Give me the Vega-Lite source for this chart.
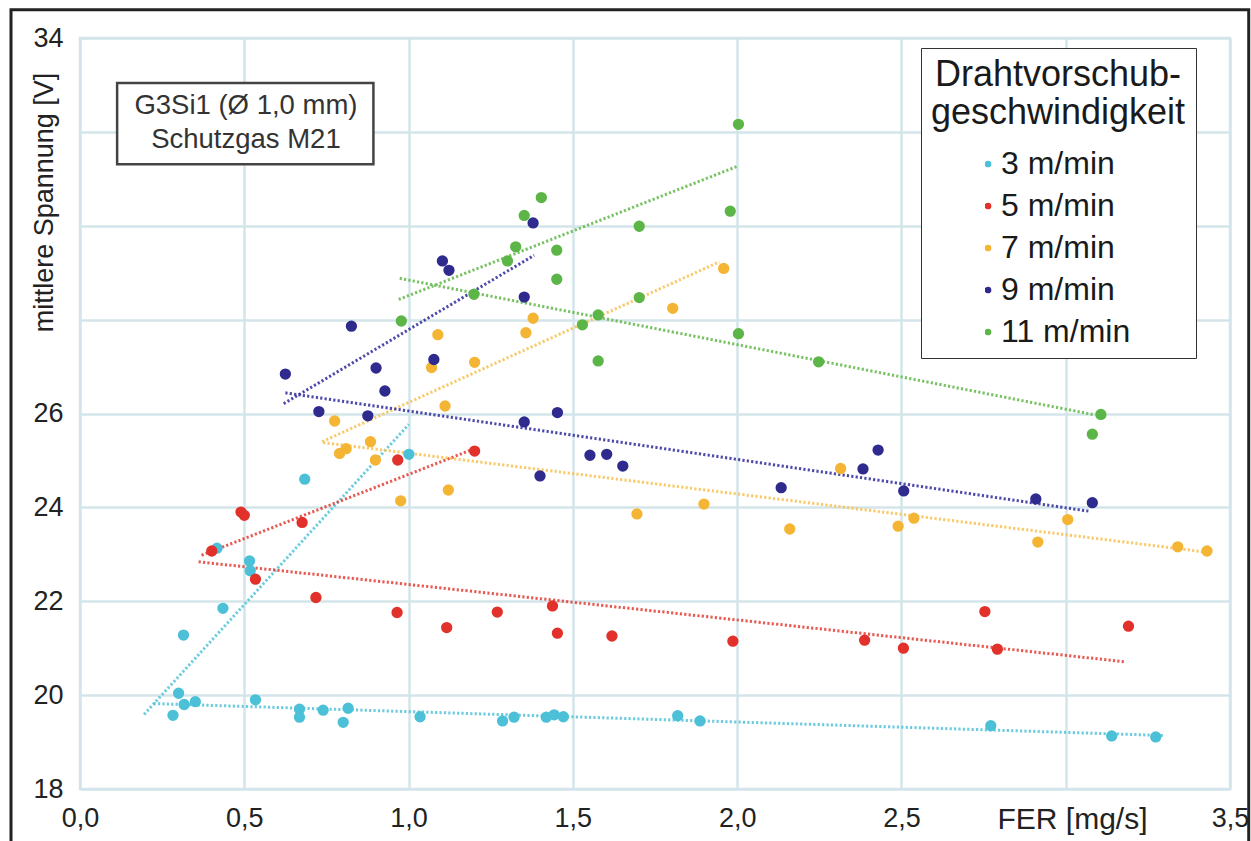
{
  "$schema": "https://vega.github.io/schema/vega-lite/v6.json",
  "width": 1150,
  "height": 751,
  "autosize": {"type": "none"},
  "padding": {"left": 80, "top": 38, "right": 21, "bottom": 52},
  "background": "white",
  "config": {
    "font": "Liberation Sans",
    "view": {"stroke": "#d3e5ea", "strokeWidth": 2.5},
    "axis": {
      "domain": false,
      "ticks": false,
      "tickSize": 0,
      "grid": true,
      "gridColor": "#d3e5ea",
      "gridWidth": 2.5,
      "gridOpacity": 1,
      "labelFont": "Liberation Sans",
      "labelFontSize": 27,
      "labelColor": "#222222",
      "titleFont": "Liberation Sans",
      "titleColor": "#222222",
      "titleFontWeight": "normal"
    }
  },
  "datasets": {
    "points": [
      {"speed": "3 m/min", "x": 0.283, "y": 19.57},
      {"speed": "3 m/min", "x": 0.300, "y": 20.04},
      {"speed": "3 m/min", "x": 0.315, "y": 21.28},
      {"speed": "3 m/min", "x": 0.317, "y": 19.80},
      {"speed": "3 m/min", "x": 0.351, "y": 19.86},
      {"speed": "3 m/min", "x": 0.417, "y": 23.13},
      {"speed": "3 m/min", "x": 0.435, "y": 21.85},
      {"speed": "3 m/min", "x": 0.516, "y": 22.86},
      {"speed": "3 m/min", "x": 0.518, "y": 22.65},
      {"speed": "3 m/min", "x": 0.534, "y": 19.90},
      {"speed": "3 m/min", "x": 0.668, "y": 19.70},
      {"speed": "3 m/min", "x": 0.668, "y": 19.53},
      {"speed": "3 m/min", "x": 0.684, "y": 24.60},
      {"speed": "3 m/min", "x": 0.740, "y": 19.68},
      {"speed": "3 m/min", "x": 0.801, "y": 19.42},
      {"speed": "3 m/min", "x": 0.816, "y": 19.72},
      {"speed": "3 m/min", "x": 1.001, "y": 25.13},
      {"speed": "3 m/min", "x": 1.035, "y": 19.54},
      {"speed": "3 m/min", "x": 1.286, "y": 19.45},
      {"speed": "3 m/min", "x": 1.321, "y": 19.53},
      {"speed": "3 m/min", "x": 1.419, "y": 19.53},
      {"speed": "3 m/min", "x": 1.443, "y": 19.58},
      {"speed": "3 m/min", "x": 1.471, "y": 19.54},
      {"speed": "3 m/min", "x": 1.819, "y": 19.56},
      {"speed": "3 m/min", "x": 1.887, "y": 19.45},
      {"speed": "3 m/min", "x": 2.772, "y": 19.35},
      {"speed": "3 m/min", "x": 3.140, "y": 19.13},
      {"speed": "3 m/min", "x": 3.274, "y": 19.11},
      {"speed": "5 m/min", "x": 0.401, "y": 23.07},
      {"speed": "5 m/min", "x": 0.490, "y": 23.90},
      {"speed": "5 m/min", "x": 0.500, "y": 23.83},
      {"speed": "5 m/min", "x": 0.534, "y": 22.47},
      {"speed": "5 m/min", "x": 0.676, "y": 23.68},
      {"speed": "5 m/min", "x": 0.718, "y": 22.08},
      {"speed": "5 m/min", "x": 0.965, "y": 21.76},
      {"speed": "5 m/min", "x": 0.967, "y": 25.01},
      {"speed": "5 m/min", "x": 1.116, "y": 21.44},
      {"speed": "5 m/min", "x": 1.201, "y": 25.20},
      {"speed": "5 m/min", "x": 1.270, "y": 21.77},
      {"speed": "5 m/min", "x": 1.438, "y": 21.90},
      {"speed": "5 m/min", "x": 1.453, "y": 21.32},
      {"speed": "5 m/min", "x": 1.619, "y": 21.26},
      {"speed": "5 m/min", "x": 1.987, "y": 21.15},
      {"speed": "5 m/min", "x": 2.388, "y": 21.17},
      {"speed": "5 m/min", "x": 2.506, "y": 21.00},
      {"speed": "5 m/min", "x": 2.754, "y": 21.78},
      {"speed": "5 m/min", "x": 2.792, "y": 20.98},
      {"speed": "5 m/min", "x": 3.191, "y": 21.47},
      {"speed": "7 m/min", "x": 0.775, "y": 25.84},
      {"speed": "7 m/min", "x": 0.790, "y": 25.15},
      {"speed": "7 m/min", "x": 0.810, "y": 25.25},
      {"speed": "7 m/min", "x": 0.884, "y": 25.40},
      {"speed": "7 m/min", "x": 0.899, "y": 25.01},
      {"speed": "7 m/min", "x": 0.976, "y": 24.14},
      {"speed": "7 m/min", "x": 1.070, "y": 26.98},
      {"speed": "7 m/min", "x": 1.089, "y": 27.68},
      {"speed": "7 m/min", "x": 1.111, "y": 26.16},
      {"speed": "7 m/min", "x": 1.121, "y": 24.37},
      {"speed": "7 m/min", "x": 1.201, "y": 27.09},
      {"speed": "7 m/min", "x": 1.357, "y": 27.72},
      {"speed": "7 m/min", "x": 1.379, "y": 28.03},
      {"speed": "7 m/min", "x": 1.695, "y": 23.86},
      {"speed": "7 m/min", "x": 1.804, "y": 28.24},
      {"speed": "7 m/min", "x": 1.899, "y": 24.07},
      {"speed": "7 m/min", "x": 1.959, "y": 29.09},
      {"speed": "7 m/min", "x": 2.160, "y": 23.54},
      {"speed": "7 m/min", "x": 2.315, "y": 24.83},
      {"speed": "7 m/min", "x": 2.490, "y": 23.60},
      {"speed": "7 m/min", "x": 2.538, "y": 23.77},
      {"speed": "7 m/min", "x": 2.915, "y": 23.26},
      {"speed": "7 m/min", "x": 3.006, "y": 23.74},
      {"speed": "7 m/min", "x": 3.341, "y": 23.16},
      {"speed": "7 m/min", "x": 3.430, "y": 23.07},
      {"speed": "9 m/min", "x": 0.625, "y": 26.84},
      {"speed": "9 m/min", "x": 0.727, "y": 26.04},
      {"speed": "9 m/min", "x": 0.826, "y": 27.86},
      {"speed": "9 m/min", "x": 0.876, "y": 25.95},
      {"speed": "9 m/min", "x": 0.901, "y": 26.97},
      {"speed": "9 m/min", "x": 0.928, "y": 26.48},
      {"speed": "9 m/min", "x": 1.077, "y": 27.15},
      {"speed": "9 m/min", "x": 1.103, "y": 29.25},
      {"speed": "9 m/min", "x": 1.123, "y": 29.05},
      {"speed": "9 m/min", "x": 1.352, "y": 28.48},
      {"speed": "9 m/min", "x": 1.352, "y": 25.82},
      {"speed": "9 m/min", "x": 1.379, "y": 30.06},
      {"speed": "9 m/min", "x": 1.400, "y": 24.67},
      {"speed": "9 m/min", "x": 1.453, "y": 26.02},
      {"speed": "9 m/min", "x": 1.552, "y": 25.11},
      {"speed": "9 m/min", "x": 1.603, "y": 25.13},
      {"speed": "9 m/min", "x": 1.652, "y": 24.88},
      {"speed": "9 m/min", "x": 2.134, "y": 24.42},
      {"speed": "9 m/min", "x": 2.383, "y": 24.82},
      {"speed": "9 m/min", "x": 2.429, "y": 25.22},
      {"speed": "9 m/min", "x": 2.507, "y": 24.35},
      {"speed": "9 m/min", "x": 2.909, "y": 24.18},
      {"speed": "9 m/min", "x": 3.081, "y": 24.10},
      {"speed": "11 m/min", "x": 0.978, "y": 27.97},
      {"speed": "11 m/min", "x": 1.199, "y": 28.54},
      {"speed": "11 m/min", "x": 1.301, "y": 29.25},
      {"speed": "11 m/min", "x": 1.326, "y": 29.55},
      {"speed": "11 m/min", "x": 1.352, "y": 30.22},
      {"speed": "11 m/min", "x": 1.404, "y": 30.60},
      {"speed": "11 m/min", "x": 1.451, "y": 29.48},
      {"speed": "11 m/min", "x": 1.451, "y": 28.86},
      {"speed": "11 m/min", "x": 1.529, "y": 27.89},
      {"speed": "11 m/min", "x": 1.577, "y": 28.10},
      {"speed": "11 m/min", "x": 1.577, "y": 27.12},
      {"speed": "11 m/min", "x": 1.702, "y": 29.99},
      {"speed": "11 m/min", "x": 1.702, "y": 28.47},
      {"speed": "11 m/min", "x": 1.979, "y": 30.31},
      {"speed": "11 m/min", "x": 2.004, "y": 32.16},
      {"speed": "11 m/min", "x": 2.004, "y": 27.70},
      {"speed": "11 m/min", "x": 2.248, "y": 27.10},
      {"speed": "11 m/min", "x": 3.081, "y": 25.56},
      {"speed": "11 m/min", "x": 3.107, "y": 25.98}
    ],
    "lines": [
      {"speed": "3 m/min", "seg": "3a", "x": 0.195, "y": 19.59},
      {"speed": "3 m/min", "seg": "3a", "x": 1.001, "y": 25.77},
      {"speed": "3 m/min", "seg": "3b", "x": 0.224, "y": 19.82},
      {"speed": "3 m/min", "seg": "3b", "x": 3.300, "y": 19.14},
      {"speed": "5 m/min", "seg": "5a", "x": 0.370, "y": 22.98},
      {"speed": "5 m/min", "seg": "5a", "x": 1.200, "y": 25.25},
      {"speed": "5 m/min", "seg": "5b", "x": 0.361, "y": 22.84},
      {"speed": "5 m/min", "seg": "5b", "x": 3.181, "y": 20.71},
      {"speed": "7 m/min", "seg": "7a", "x": 0.737, "y": 25.40},
      {"speed": "7 m/min", "seg": "7a", "x": 1.946, "y": 29.23},
      {"speed": "7 m/min", "seg": "7b", "x": 0.740, "y": 25.38},
      {"speed": "7 m/min", "seg": "7b", "x": 3.435, "y": 23.04},
      {"speed": "9 m/min", "seg": "9a", "x": 0.620, "y": 26.21},
      {"speed": "9 m/min", "seg": "9a", "x": 1.382, "y": 29.37},
      {"speed": "9 m/min", "seg": "9b", "x": 0.625, "y": 26.44},
      {"speed": "9 m/min", "seg": "9b", "x": 3.069, "y": 23.92},
      {"speed": "11 m/min", "seg": "11a", "x": 0.970, "y": 28.43},
      {"speed": "11 m/min", "seg": "11a", "x": 2.002, "y": 31.27},
      {"speed": "11 m/min", "seg": "11b", "x": 0.973, "y": 28.88},
      {"speed": "11 m/min", "seg": "11b", "x": 3.089, "y": 25.97}
    ]
  },
  "layer": [
    {
      "data": {"name": "lines"},
      "mark": {"type": "line", "strokeWidth": 3, "strokeDash": [2.2, 2.2], "opacity": 0.9},
      "encoding": {
        "x": {"field": "x", "type": "quantitative", "scale": {"domain": [0, 3.5], "nice": false, "zero": false}},
        "y": {"field": "y", "type": "quantitative", "scale": {"domain": [18, 34], "nice": false, "zero": false}},
        "detail": {"field": "seg"},
        "stroke": {"field": "speed", "type": "nominal", "legend": null,
          "scale": {"domain": ["11 m/min", "9 m/min", "7 m/min", "5 m/min", "3 m/min"], "range": ["#69bb52", "#3a36a0", "#f7c45a", "#e4483e", "#5cc6da"]}}
      }
    },
    {
      "data": {"name": "points"},
      "mark": {"type": "circle", "size": 128, "opacity": 1},
      "encoding": {
        "x": {"field": "x", "type": "quantitative", "scale": {"domain": [0, 3.5], "nice": false, "zero": false},
          "axis": {"values": [0, 0.5, 1, 1.5, 2, 2.5, 3, 3.5], "labelExpr": "datum.value == 3 ? '' : datum.value == 3.5 ? '3,5\u00a0\u00a0' : replace(format(datum.value, '.1f'), '.', ',')",
            "labelPadding": 16, "labelFlush": false, "labelOverlap": false,
            "title": "FER [mg/s]", "titleFontSize": 30, "titleX": 992, "titleY": 39, "titleBaseline": "alphabetic", "titleAlign": "center"}},
        "y": {"field": "y", "type": "quantitative", "scale": {"domain": [18, 34], "nice": false, "zero": false},
          "axis": {"values": [18, 20, 22, 24, 26, 28, 30, 32, 34], "labelExpr": "datum.value >= 28 && datum.value <= 32 ? '' : datum.label",
            "labelPadding": 17, "labelFlush": false, "labelOverlap": false,
            "title": "mittlere Spannung [V]", "titleFontSize": 27, "titleAngle": 270, "titleX": -28, "titleY": 164, "titleBaseline": "alphabetic", "titleAlign": "center"}},
        "color": {"field": "speed", "type": "nominal",
          "scale": {"domain": ["3 m/min", "5 m/min", "7 m/min", "9 m/min", "11 m/min"], "range": ["#4cc0d6", "#e2302b", "#f5b534", "#2e2a8e", "#5cb547"]},
          "legend": {
            "title": ["Drahtvorschub-", "geschwindigkeit"],
            "orient": "none", "legendX": 841, "legendY": 10,
            "padding": 10,
            "strokeColor": "#333333", "fillColor": "white",
            "titleFontSize": 36, "titleFont": "Liberation Sans", "titleFontWeight": "normal", "titleColor": "#1a1a1a",
            "titleLineHeight": 38, "titleAlign": "center", "titleAnchor": "middle", "titlePadding": 17, "titleLimit": 400,
            "labelFontSize": 32, "labelFont": "Liberation Sans", "labelColor": "#1a1a1a", "labelLimit": 300, "labelAlign": "left",
            "symbolType": "circle", "symbolSize": 45, "symbolStrokeWidth": 0,
            "symbolOffset": -13, "labelOffset": -3,
            "clipHeight": 30, "rowPadding": 10
          }
        }
      }
    },
    {
      "data": {"values": [{}]},
      "mark": {"type": "rect", "fill": "white", "stroke": "#444444", "strokeWidth": 2.5},
      "encoding": {
        "x": {"datum": 0.113, "type": "quantitative"},
        "x2": {"datum": 0.893},
        "y": {"datum": 33.04, "type": "quantitative"},
        "y2": {"datum": 31.31}
      }
    },
    {
      "data": {"values": [{}]},
      "mark": {"type": "text", "text": ["G3Si1 (Ø 1,0 mm)", "Schutzgas M21"], "fontSize": 27.5, "lineHeight": 34, "align": "center", "baseline": "middle", "color": "#333333", "font": "Liberation Sans"},
      "encoding": {
        "x": {"datum": 0.505, "type": "quantitative"},
        "y": {"datum": 32.56, "type": "quantitative"}
      }
    },
    {
      "data": {"values": [{}]},
      "mark": {"type": "rect", "filled": false, "stroke": "#222222", "strokeWidth": 3, "clip": false},
      "encoding": {
        "x": {"datum": -0.21, "type": "quantitative"},
        "x2": {"datum": 3.557},
        "y": {"datum": 34.6, "type": "quantitative"},
        "y2": {"datum": 16.5}
      }
    }
  ]
}
